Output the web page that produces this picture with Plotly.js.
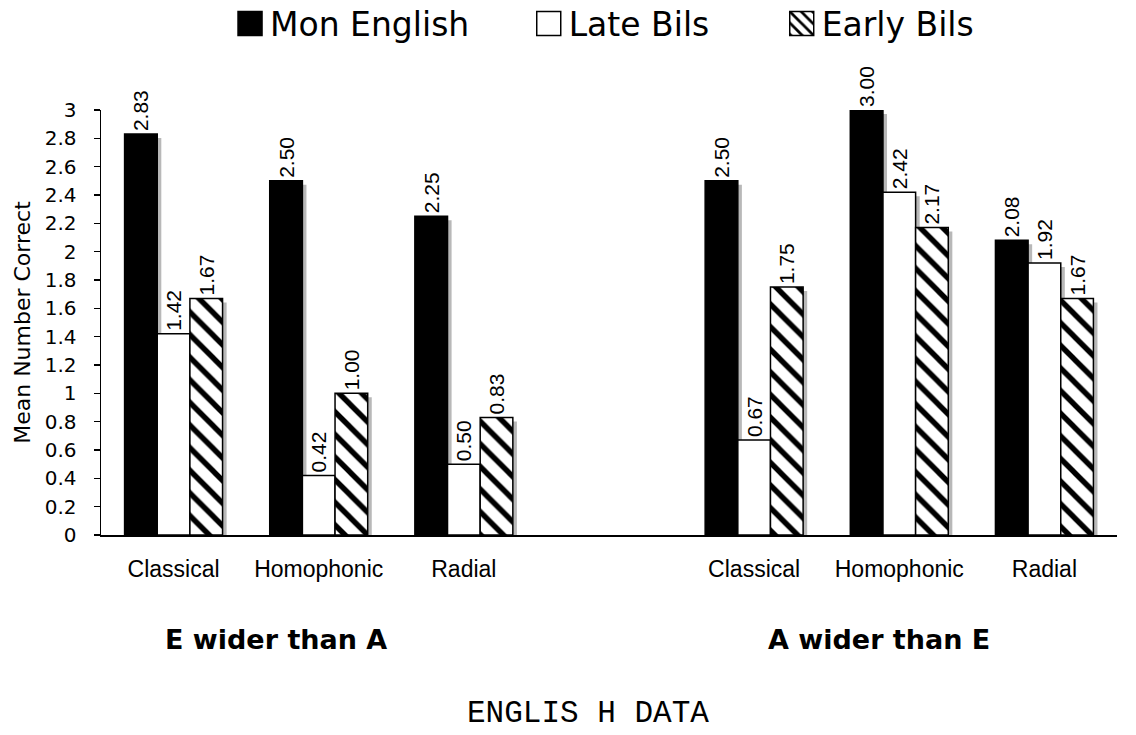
<!DOCTYPE html>
<html>
<head>
<meta charset="utf-8">
<script src="https://cdn.plot.ly/plotly-3.0.1.min.js"></script>
<style>html,body{margin:0;padding:0;background:#fff;}#chart{width:1136px;height:735px;}</style>
</head>
<body>
<div id="chart"></div>
<script>
// ---- data ----
const groups = ['E wider than A', 'A wider than E'];
const conditions = ['Classical', 'Homophonic', 'Radial'];
const seriesNames = ['Mon English', 'Late Bils', 'Early Bils'];
const monEnglish = [2.83, 2.50, 2.25, 2.50, 3.00, 2.08];
const lateBils   = [1.42, 0.42, 0.50, 0.67, 2.42, 1.92];
const earlyBils  = [1.67, 1.00, 0.83, 1.75, 2.17, 1.67];
const footer = 'ENGLIS H DATA';

// category positions: 3 conditions per group, one empty slot between groups
const xPos = [];
const xLabels = [];
groups.forEach((g, gi) => conditions.forEach((c, ci) => { xPos.push(gi * 4 + ci); xLabels.push(c); }));

const barW = 0.225;
const offsets = [-0.3375, -0.1125, 0.1125];
const shadowDx = 0.028, shadowDy = 0.028;
const values = [monEnglish, lateBils, earlyBils];
const legendIds = ['legend', 'legend2', 'legend3'];
const markers = [
  {color: '#000000', line: {color: '#000', width: 1.5}},
  {color: '#ffffff', line: {color: '#000', width: 1.5}},
  {color: '#ffffff', line: {color: '#000', width: 1.5},
   pattern: {shape: '\\', size: 16, solidity: 0.34, fgcolor: '#000', bgcolor: '#fff', fillmode: 'replace'}}
];

const traces = [];
values.forEach((vals, i) => {
  traces.push({
    type: 'bar', x: xPos, y: vals, base: -shadowDy,
    width: barW, offset: offsets[i] + shadowDx,
    marker: {color: '#b8b8b8', line: {width: 0}},
    showlegend: false, hoverinfo: 'skip'
  });
  traces.push({
    type: 'bar', x: xPos, y: vals, name: seriesNames[i],
    width: barW, offset: offsets[i],
    marker: markers[i],
    text: vals.map(v => v.toFixed(2)),
    texttemplate: '%{text}',
    textposition: 'outside', textangle: -90, constraintext: 'none',
    textfont: {family: 'Liberation Sans, Arial, sans-serif', size: 21, color: '#000'},
    cliponaxis: false,
    legend: legendIds[i]
  });
});

const legendBase = {orientation: 'h', yref: 'container', yanchor: 'middle', y: 0.968, xanchor: 'left',
  bgcolor: 'rgba(0,0,0,0)', borderwidth: 0,
  font: {family: 'DejaVu Sans, Verdana, sans-serif', size: 33, color: '#000'}};

const layout = {
  width: 1136, height: 735,
  margin: {l: 101, r: 19, t: 110, b: 200},
  paper_bgcolor: '#fff', plot_bgcolor: '#fff',
  barmode: 'overlay',
  font: {family: 'DejaVu Sans, sans-serif', color: '#000'},
  xaxis: {
    type: 'linear', range: [-0.5, 6.5], automargin: false,
    tickmode: 'array', tickvals: xPos, ticktext: xLabels,
    ticks: '', showline: true, linecolor: '#000', linewidth: 1.5,
    showgrid: false, zeroline: false, ticklabelstandoff: 13,
    tickfont: {family: 'Liberation Sans, Arial, sans-serif', size: 23, color: '#000'}
  },
  yaxis: {
    range: [0, 3], tickmode: 'linear', tick0: 0, dtick: 0.2, automargin: false,
    ticks: 'outside', ticklen: 6, tickwidth: 1.5, tickcolor: '#000',
    showline: true, linecolor: '#000', linewidth: 1.5,
    showgrid: false, zeroline: false, ticklabelstandoff: 13,
    tickfont: {family: 'DejaVu Sans, Verdana, sans-serif', size: 20, color: '#000'},
    title: {text: 'Mean Number Correct', standoff: 8,
      font: {family: 'DejaVu Sans, Verdana, sans-serif', size: 22, color: '#000'}}
  },
  legend:  Object.assign({}, legendBase, {x: 0.127}),
  legend2: Object.assign({}, legendBase, {x: 0.421}),
  legend3: Object.assign({}, legendBase, {x: 0.670}),
  annotations: [
    {text: groups[0], xref: 'paper', yref: 'paper', x: 0.172, y: -0.247, showarrow: false,
     xanchor: 'center', yanchor: 'middle',
     font: {family: 'DejaVu Sans, Verdana, sans-serif', size: 27, color: '#000', weight: 'bold'}},
    {text: groups[1], xref: 'paper', yref: 'paper', x: 0.766, y: -0.247, showarrow: false,
     xanchor: 'center', yanchor: 'middle',
     font: {family: 'DejaVu Sans, Verdana, sans-serif', size: 27, color: '#000', weight: 'bold'}},
    {text: footer, xref: 'paper', yref: 'paper', x: 0.479, y: -0.421, showarrow: false,
     xanchor: 'center', yanchor: 'middle', borderpad: 0,
     font: {family: 'Liberation Mono, Courier New, monospace', size: 31, color: '#000'}}
  ]
};

const gd = document.getElementById('chart');
function enlargeLegendSymbols() {
  gd.querySelectorAll('g.legendpoints path').forEach(p => {
    p.setAttribute('d', 'M12,12H-12V-12H12Z');
  });
}
Plotly.newPlot(gd, traces, layout, {displayModeBar: false, staticPlot: true}).then(() => {
  enlargeLegendSymbols();
  gd.on('plotly_afterplot', enlargeLegendSymbols);
});
</script>
</body>
</html>
